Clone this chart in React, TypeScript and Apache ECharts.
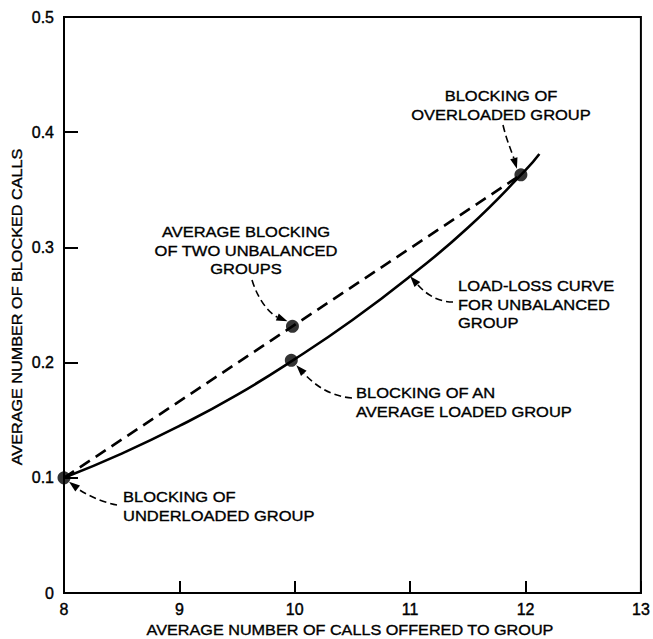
import React, { useEffect, useRef } from "react";
import * as echarts from "echarts";

// Load-loss curve for unbalanced group (solid)
const curveX = [8, 8.5, 9, 9.5, 10, 10.5, 11, 11.5, 12, 12.12];
const curveY = [0.1, 0.121, 0.145, 0.172, 0.203, 0.237, 0.275, 0.317, 0.367, 0.381];
// Average blocking of two unbalanced groups (dashed chord)
const chordX = [8, 11.96];
const chordY = [0.1, 0.363];
// Marked points
const dotX = [8, 9.97, 9.98, 11.96];
const dotY = [0.1, 0.202, 0.2315, 0.363];
// Axis ticks
const xTicks = [8, 9, 10, 11, 12, 13];
const yTicks = [0, 0.1, 0.2, 0.3, 0.4, 0.5];

const xName = "AVERAGE NUMBER OF CALLS OFFERED TO GROUP";
const yName = "AVERAGE NUMBER OF BLOCKED CALLS";

const FONT = "'Liberation Sans', Arial, Helvetica, sans-serif";

type Note = {
  lines: string[];
  x: number;
  y: number;
  align: "left" | "center";
  arrowStart: [number, number];
  cp1: [number, number];
  cp2: [number, number];
  tipData: [number, number];
  tipOffset: [number, number];
};

const notes: Note[] = [
  {
    lines: ["BLOCKING OF", "UNDERLOADED GROUP"],
    x: 123, y: 497, align: "left",
    arrowStart: [117, 505], cp1: [100, 502], cp2: [82, 492],
    tipData: [8, 0.1], tipOffset: [5, 4],
  },
  {
    lines: ["BLOCKING OF AN", "AVERAGE LOADED GROUP"],
    x: 356, y: 393, align: "left",
    arrowStart: [352, 398], cp1: [326, 396], cp2: [310, 380],
    tipData: [9.97, 0.202], tipOffset: [5, 5],
  },
  {
    lines: ["AVERAGE BLOCKING", "OF TWO UNBALANCED", "GROUPS"],
    x: 246, y: 232, align: "center",
    arrowStart: [252, 280], cp1: [258, 300], cp2: [270, 314],
    tipData: [9.98, 0.2315], tipOffset: [-5, -5],
  },
  {
    lines: ["LOAD-LOSS CURVE", "FOR UNBALANCED", "GROUP"],
    x: 458, y: 286, align: "left",
    arrowStart: [453, 302], cp1: [436, 302], cp2: [424, 292],
    tipData: [11, 0.275], tipOffset: [0, 0],
  },
  {
    lines: ["BLOCKING OF", "OVERLOADED GROUP"],
    x: 501, y: 96, align: "center",
    arrowStart: [503, 125], cp1: [507, 142], cp2: [512, 152],
    tipData: [11.96, 0.363], tipOffset: [-4, -6],
  },
];

export default function App() {
  const ref = useRef<HTMLDivElement>(null);
  useEffect(() => {
    document.body.style.margin = "0";
    if (!ref.current) return;
    const chart = echarts.init(ref.current, undefined, { renderer: "svg" });
    const axisText = {
      color: "#000", fontSize: 16, fontFamily: FONT,
      textBorderColor: "#000", textBorderWidth: 0.4,
    };
    chart.setOption({
      animation: false,
      backgroundColor: "#fff",
      grid: {
        left: 64, right: 9, top: 17, bottom: 46,
        show: true, borderColor: "#000", borderWidth: 2,
      },
      xAxis: {
        type: "value", min: xTicks[0], max: xTicks[xTicks.length - 1], interval: 1,
        axisLine: { lineStyle: { color: "#000", width: 2 } },
        axisTick: { inside: true, length: 12, lineStyle: { color: "#000", width: 2 } },
        splitLine: { show: false },
        axisLabel: { ...axisText, margin: 8 },
      },
      yAxis: {
        type: "value", min: yTicks[0], max: yTicks[yTicks.length - 1], interval: 0.1,
        axisLine: { lineStyle: { color: "#000", width: 2 } },
        axisTick: { inside: true, length: 14, lineStyle: { color: "#000", width: 2 } },
        splitLine: { show: false },
        axisLabel: { ...axisText, margin: 10 },
      },
      series: [
        {
          type: "line", data: curveX.map((x, i) => [x, curveY[i]]),
          smooth: 0.5, symbol: "none",
          lineStyle: { color: "#000", width: 2.6 },
        },
        {
          type: "line", data: chordX.map((x, i) => [x, chordY[i]]),
          symbol: "none",
          lineStyle: { color: "#000", width: 2.6, type: [12, 7] },
        },
        {
          type: "scatter", data: dotX.map((x, i) => [x, dotY[i]]),
          symbolSize: 13, itemStyle: { color: "#000" }, z: 5,
        },
      ],
    });

    const txt = (s: string, extra: any) => ({
      text: s, fill: "#000", font: `15px ${FONT}`,
      stroke: "#000", lineWidth: 0.35, ...extra,
    });

    const graphics: any[] = [];
    notes.forEach((n) => {
      n.lines.forEach((line, i) => {
        graphics.push({
          type: "text", x: n.x, y: n.y + i * 18.5, scaleX: 1.1,
          style: txt(line, { align: n.align, verticalAlign: "middle" }),
        });
      });
      const p = chart.convertToPixel({ gridIndex: 0 }, n.tipData) as number[];
      const tx = p[0] + n.tipOffset[0];
      const ty = p[1] + n.tipOffset[1];
      let dx = tx - n.cp2[0];
      let dy = ty - n.cp2[1];
      const len = Math.hypot(dx, dy) || 1;
      dx /= len; dy /= len;
      const L = 11, W = 3.8;
      const bx = tx - dx * L, by = ty - dy * L;
      graphics.push({
        type: "bezierCurve",
        shape: {
          x1: n.arrowStart[0], y1: n.arrowStart[1], x2: bx, y2: by,
          cpx1: n.cp1[0], cpy1: n.cp1[1], cpx2: n.cp2[0], cpy2: n.cp2[1],
        },
        style: { stroke: "#000", lineWidth: 1.6, fill: null, lineDash: [7, 4] },
      });
      graphics.push({
        type: "polygon",
        shape: {
          points: [
            [tx, ty],
            [bx - dy * W, by + dx * W],
            [bx + dy * W, by - dx * W],
          ],
        },
        style: { fill: "#000" },
      });
    });
    graphics.push({
      type: "text", x: 350, y: 630, scaleX: 1.08,
      style: txt(xName, { align: "center", verticalAlign: "middle" }),
    });
    graphics.push({
      type: "text", x: 17, y: 307, rotation: Math.PI / 2, scaleX: 1.08,
      style: txt(yName, { align: "center", verticalAlign: "middle" }),
    });
    chart.setOption({ graphic: graphics });
    return () => chart.dispose();
  }, []);
  return <div ref={ref} style={{ width: 653, height: 639 }} />;
}
